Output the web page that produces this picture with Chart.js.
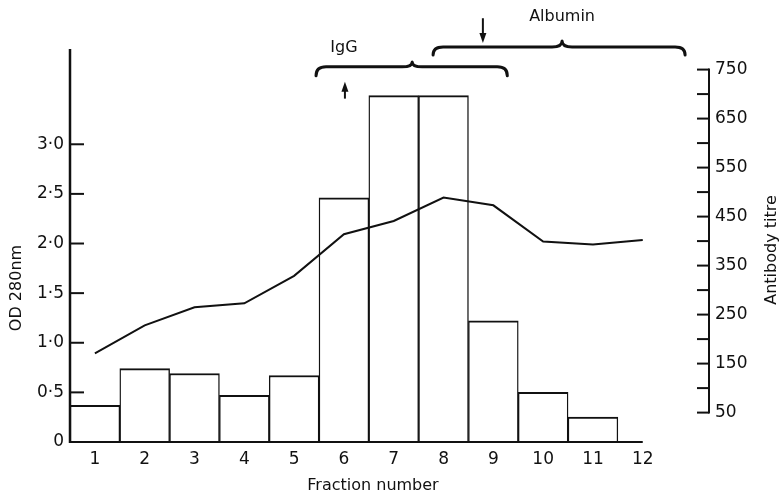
<!DOCTYPE html>
<html><head><meta charset="utf-8">
<script src="https://cdn.jsdelivr.net/npm/chart.js@4/dist/chart.umd.min.js"></script>
<style>html,body{margin:0;padding:0;background:#fff;}#wrap{width:783px;height:494px;position:relative;}</style>
</head><body><div id="wrap"><canvas id="c" width="783" height="494"></canvas></div>
<script>
// ---- data ----
const fractions = [1,2,3,4,5,6,7,8,9,10,11,12];
const odValues = [0.37,0.74,0.69,0.47,0.67,2.46,3.49,3.49,1.22,0.50,0.25,null];
const titreValues = [171,228,265,273,329,414,441,489,473,399,393,402];
const odTicks = [0,0.5,1.0,1.5,2.0,2.5,3.0];
const titreTicks = [50,150,250,350,450,550,650,750];
const titreMinorTicks = [100,200,300,400,500,600,700];
const annotLabels = ['IgG','Albumin'];

const FONT = '"DejaVu Sans", sans-serif';
const INK = '#111';

const axesPlugin = {
  id: 'axesPlugin',
  afterDatasetsDraw(chart) {
    const ctx = chart.ctx, ca = chart.chartArea;
    const xs = chart.scales.x, ys = chart.scales.y, y2 = chart.scales.y2;
    ctx.save();
    ctx.strokeStyle = INK; ctx.fillStyle = INK; ctx.lineCap = 'butt';
    // left axis
    ctx.lineWidth = 2.5;
    ctx.beginPath(); ctx.moveTo(ca.left, ca.top); ctx.lineTo(ca.left, ca.bottom + 1); ctx.stroke();
    ctx.lineWidth = 2;
    odTicks.filter(v => v > 0).forEach(v => {
      const y = ys.getPixelForValue(v);
      ctx.beginPath(); ctx.moveTo(ca.left, y); ctx.lineTo(ca.left + 14, y); ctx.stroke();
    });
    // bottom axis
    ctx.lineWidth = 2;
    ctx.beginPath(); ctx.moveTo(ca.left, ca.bottom); ctx.lineTo(xs.getPixelForValue(fractions[fractions.length-1]), ca.bottom); ctx.stroke();
    // right axis
    const xr = ca.right;
    ctx.lineWidth = 2;
    ctx.beginPath(); ctx.moveTo(xr, y2.getPixelForValue(titreTicks[0]) + 1); ctx.lineTo(xr, y2.getPixelForValue(titreTicks[titreTicks.length-1]) - 1); ctx.stroke();
    titreTicks.concat(titreMinorTicks).forEach(v => {
      const y = y2.getPixelForValue(v);
      ctx.beginPath(); ctx.moveTo(xr - 12, y); ctx.lineTo(xr, y); ctx.stroke();
    });
    // titles
    ctx.font = '16px ' + FONT;
    ctx.textAlign = 'center'; ctx.textBaseline = 'middle';
    ctx.fillText('Fraction number', 373, 486);
    ctx.save(); ctx.translate(17, 288); ctx.rotate(-Math.PI/2); ctx.fillText('OD 280nm', 0, 0); ctx.restore();
    ctx.save(); ctx.translate(772, 250); ctx.rotate(-Math.PI/2); ctx.fillText('Antibody titre', 0, 0); ctx.restore();

    // annotations (positions in data units)
    const X = v => xs.getPixelForValue(v), Y = v => ys.getPixelForValue(v);
    function brace(x1, xm, x2, yLine, yEnd, yPeak) {
      const r = 10;
      ctx.beginPath();
      ctx.moveTo(X(x1), Y(yEnd));
      ctx.quadraticCurveTo(X(x1), Y(yLine), X(x1) + r, Y(yLine));
      ctx.lineTo(X(xm) - r, Y(yLine));
      ctx.quadraticCurveTo(X(xm), Y(yLine), X(xm), Y(yPeak));
      ctx.quadraticCurveTo(X(xm), Y(yLine), X(xm) + r, Y(yLine));
      ctx.lineTo(X(x2) - r, Y(yLine));
      ctx.quadraticCurveTo(X(x2), Y(yLine), X(x2), Y(yEnd));
      ctx.stroke();
    }
    function arrow(x, yFrom, yTip) {
      const px = X(x), p0 = Y(yFrom), p1 = Y(yTip);
      const dir = p1 < p0 ? 1 : -1;
      ctx.lineWidth = 2;
      ctx.beginPath(); ctx.moveTo(px, p0); ctx.lineTo(px, p1 + dir * 8); ctx.stroke();
      ctx.beginPath(); ctx.moveTo(px, p1); ctx.lineTo(px - 3.5, p1 + dir * 10); ctx.lineTo(px + 3.5, p1 + dir * 10); ctx.closePath(); ctx.fill();
    }
    ctx.lineWidth = 3; ctx.lineJoin = 'round'; ctx.lineCap = 'round';
    brace(5.44, 7.37, 9.28, 3.78, 3.69, 3.83);
    brace(7.79, 10.38, 12.85, 3.98, 3.90, 4.04);
    ctx.lineCap = 'butt';
    arrow(6.02, 3.46, 3.63);
    arrow(8.79, 4.27, 4.02);
    ctx.font = '16px ' + FONT;
    ctx.fillText(annotLabels[0], X(6.0), Y(3.97));
    ctx.fillText(annotLabels[1], X(10.38), Y(4.28));
    ctx.restore();
  }
};

new Chart(document.getElementById('c'), {
  data: {
    datasets: [
      {
        type: 'line',
        data: fractions.map((f, i) => ({x: f, y: titreValues[i]})),
        yAxisID: 'y2',
        borderColor: INK, borderWidth: 2,
        pointRadius: 0, tension: 0, fill: false, order: 0
      },
      {
        type: 'bar',
        data: fractions.map((f, i) => ({x: f, y: odValues[i]})),
        yAxisID: 'y',
        backgroundColor: '#fff', borderColor: INK,
        borderWidth: {top: 2, left: 1.4, right: 1.4, bottom: 0},
        borderSkipped: false,
        categoryPercentage: 1, barPercentage: 1, order: 1
      }
    ]
  },
  options: {
    responsive: false, animation: false, devicePixelRatio: 1,
    layout: {padding: {top: 49, left: 0, right: 0, bottom: 0}},
    plugins: {legend: {display: false}, tooltip: {enabled: false}},
    scales: {
      x: {
        type: 'linear', position: 'bottom', min: 0.5, max: 13.33, offset: false,
        grid: {display: false, drawTicks: false, offset: false}, border: {display: false},
        afterBuildTicks: s => { s.ticks = fractions.map(v => ({value: v})); },
        afterFit: s => { s.height = 52; },
        ticks: {color: INK, font: {family: FONT, size: 17}, padding: 7, maxRotation: 0, autoSkip: false,
                callback: v => String(v)}
      },
      y: {
        type: 'linear', position: 'left', min: 0, max: 3.96,
        grid: {display: false, drawTicks: false}, border: {display: false},
        afterBuildTicks: s => { s.ticks = odTicks.map(v => ({value: v})); },
        afterFit: s => { s.width = 70; },
        ticks: {color: INK, font: {family: FONT, size: 17}, padding: 6,
                callback: v => v === 0 ? '0' : v.toFixed(1).replace('.', '\u00b7')}
      },
      y2: {
        type: 'linear', position: 'right', min: -10, max: 792,
        grid: {display: false, drawTicks: false}, border: {display: false},
        afterBuildTicks: s => { s.ticks = titreTicks.map(v => ({value: v})); },
        afterFit: s => { s.width = 74; },
        ticks: {color: INK, font: {family: FONT, size: 17}, padding: 6, callback: v => String(v)}
      }
    }
  },
  plugins: [axesPlugin]
});
</script></body></html>
